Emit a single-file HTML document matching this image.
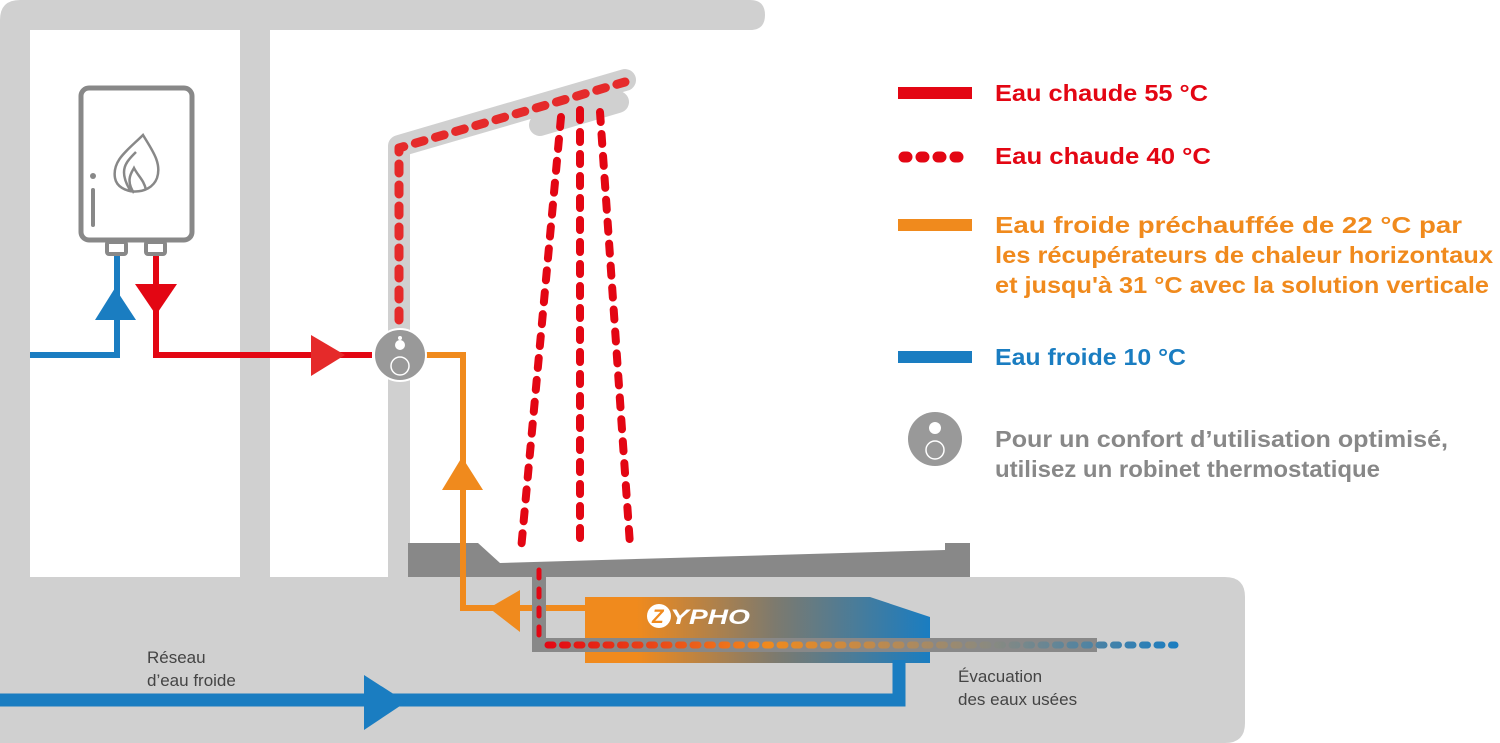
<!DOCTYPE html>
<html><head><meta charset="utf-8"><style>html,body{margin:0;padding:0;background:#fff}svg{display:block}</style></head>
<body>
<svg width="1500" height="743" viewBox="0 0 1500 743" xmlns="http://www.w3.org/2000/svg">
<defs>
<linearGradient id="zg" x1="0" x2="1" y1="0" y2="0">
<stop offset="0" stop-color="#f08a1d"/><stop offset="0.15" stop-color="#f08a1d"/><stop offset="0.55" stop-color="#7d7a6e"/><stop offset="1" stop-color="#1a7dc1"/>
</linearGradient>
<linearGradient id="dg" x1="545" x2="1180" y1="0" y2="0" gradientUnits="userSpaceOnUse">
<stop offset="0" stop-color="#e30613"/><stop offset="0.35" stop-color="#f08a1d"/><stop offset="0.7" stop-color="#8a8a80"/><stop offset="1" stop-color="#1a7dc1"/>
</linearGradient>
</defs>
<path d="M0 20 Q0 0 20 0 H750 Q765 0 765 15 Q765 30 750 30 H30 V577 H0 Z" fill="#d0d0d0"/>
<rect x="240" y="30" width="30" height="547" fill="#d0d0d0"/>
<path d="M0 577 H1225 Q1245 577 1245 597 V723 Q1245 743 1225 743 H0 Z" fill="#d0d0d0"/>
<path d="M399 560 V146 L625 80" fill="none" stroke="#d0d0d0" stroke-width="22" stroke-linejoin="round" stroke-linecap="round"/>
<path d="M540 125 L618 102" fill="none" stroke="#d0d0d0" stroke-width="22" stroke-linecap="round"/>
<rect x="388" y="400" width="22" height="177" fill="#d0d0d0"/>
<path d="M408 543 H478 L500 563 L945 550 V543 H970 V577 H408 Z" fill="#888"/>
<rect x="81" y="88" width="111" height="152" rx="8" fill="#fff" stroke="#888" stroke-width="5"/>
<rect x="107" y="242" width="19" height="12" rx="2" fill="#fff" stroke="#888" stroke-width="4"/>
<rect x="146" y="242" width="19" height="12" rx="2" fill="#fff" stroke="#888" stroke-width="4"/>
<line x1="93" y1="190" x2="93" y2="225" stroke="#888" stroke-width="4" stroke-linecap="round"/>
<circle cx="93" cy="176" r="3" fill="#888"/>
<path d="M143 135 C128 150 112 160 115 178 C118 195 150 197 157 178 C162 163 152 150 143 135 Z M136 152 C126 162 118 170 130 190 M134 193 C125 180 132 172 134 168 C138 176 144 180 146 190" fill="none" stroke="#888" stroke-width="2.5"/>
<path d="M30 355 H117 V256" fill="none" stroke="#1a7dc1" stroke-width="6"/>
<polygon points="115,288 95,320 136,320" fill="#1a7dc1"/>
<path d="M156 256 V355 H372" fill="none" stroke="#e30613" stroke-width="6"/>
<polygon points="135,284 177,284 156,315" fill="#e30613"/>
<polygon points="311,335 311,376 345,355" fill="#e52a2a"/>
<path d="M426 355 H463 V608 H590" fill="none" stroke="#f08a1d" stroke-width="6"/>
<polygon points="462,457 442,490 483,490" fill="#f08a1d"/>
<polygon points="489,608 520,590 520,632" fill="#f08a1d"/>
<circle cx="400" cy="355" r="26" fill="#999" stroke="#fff" stroke-width="2"/>
<circle cx="400" cy="345" r="5" fill="#fff"/>
<circle cx="400" cy="366" r="9" fill="none" stroke="#fff" stroke-width="1.5"/>
<circle cx="400" cy="338" r="2" fill="#fff"/>
<path d="M399 320 V148 L625 82" fill="none" stroke="#e52a2a" stroke-width="9" stroke-linecap="round" stroke-dasharray="9 12" stroke-linejoin="round"/>
<path d="M561 117 L521 550 M580 110 L580 545 M600 112 L630 545" fill="none" stroke="#e30613" stroke-width="8" stroke-linecap="round" stroke-dasharray="10 12"/>
<path d="M585 597 H870 L930 617 V663 H585 Z" fill="url(#zg)"/>
<circle cx="659" cy="616" r="12" fill="#fff"/>
<text x="652" y="623" font-family="Liberation Sans, sans-serif" font-weight="bold" font-style="italic" font-size="19" fill="#f08a1d">Z</text>
<text x="670" y="624" font-family="Liberation Sans, sans-serif" font-weight="bold" font-style="italic" font-size="21" fill="#fff" textLength="80" lengthAdjust="spacingAndGlyphs">YPHO</text>
<path d="M539 565 V645 H1097" fill="none" stroke="#888" stroke-width="14"/>
<path d="M539 570 V640" fill="none" stroke="#e30613" stroke-width="5" stroke-linecap="round" stroke-dasharray="8 11"/>
<path d="M548 645 H1175" fill="none" stroke="url(#dg)" stroke-width="7" stroke-linecap="round" stroke-dasharray="5 9.5"/>
<path d="M0 700 H899 V660" fill="none" stroke="#1a7dc1" stroke-width="13"/>
<polygon points="364,675 364,730 406,702" fill="#1a7dc1"/>
<g font-family="Liberation Sans, sans-serif" font-size="17" fill="#444">
<text x="147" y="663">Réseau</text><text x="147" y="686">d’eau froide</text>
<text x="958" y="682">Évacuation</text><text x="958" y="705">des eaux usées</text>
</g>
<rect x="898" y="87" width="74" height="12" fill="#e30613"/>
<line x1="904" y1="157" x2="968" y2="157" stroke="#e30613" stroke-width="11" stroke-linecap="round" stroke-dasharray="3 14"/>
<rect x="898" y="219" width="74" height="12" fill="#f08a1d"/>
<rect x="898" y="351" width="74" height="12" fill="#1a7dc1"/>
<circle cx="935" cy="439" r="27" fill="#999"/>
<circle cx="935" cy="428" r="6" fill="#fff"/>
<circle cx="935" cy="450" r="9" fill="none" stroke="#fff" stroke-width="1.5"/>
<g font-family="Liberation Sans, sans-serif" font-weight="bold" font-size="23">
<text x="995" y="101" fill="#e30613" textLength="213" lengthAdjust="spacingAndGlyphs">Eau chaude 55 °C</text>
<text x="995" y="164" fill="#e30613" textLength="216" lengthAdjust="spacingAndGlyphs">Eau chaude 40 °C</text>
<text x="995" y="233" fill="#f08a1d" textLength="467" lengthAdjust="spacingAndGlyphs">Eau froide préchauffée de 22 °C par</text>
<text x="995" y="263" fill="#f08a1d" textLength="498" lengthAdjust="spacingAndGlyphs">les récupérateurs de chaleur horizontaux</text>
<text x="995" y="293" fill="#f08a1d" textLength="494" lengthAdjust="spacingAndGlyphs">et jusqu'à 31 °C avec la solution verticale</text>
<text x="995" y="365" fill="#1a7dc1" textLength="191" lengthAdjust="spacingAndGlyphs">Eau froide 10 °C</text>
<text x="995" y="447" fill="#888" textLength="453" lengthAdjust="spacingAndGlyphs">Pour un confort d’utilisation optimisé,</text>
<text x="995" y="477" fill="#888" textLength="385" lengthAdjust="spacingAndGlyphs">utilisez un robinet thermostatique</text>
</g>
</svg>
</body></html>
